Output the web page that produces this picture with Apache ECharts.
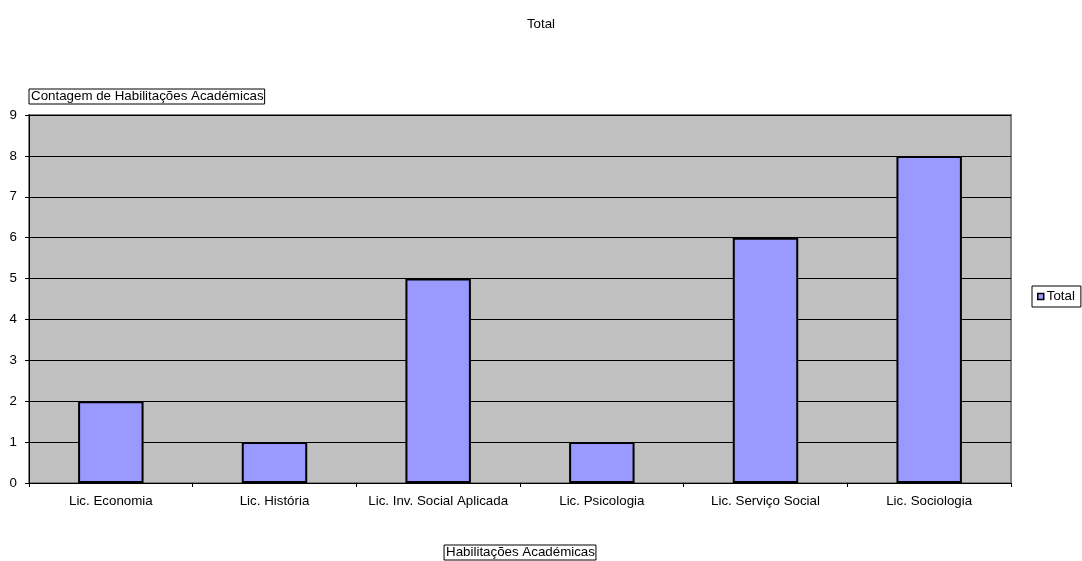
<!DOCTYPE html>
<html>
<head>
<meta charset="utf-8">
<script src="https://cdn.jsdelivr.net/npm/echarts@6/dist/echarts.min.js"></script>
<style>
  html, body { margin: 0; padding: 0; background: #fff; }
  #chart { width: 1082px; height: 561px; }
</style>
</head>
<body>
<div id="chart"></div>
<script>
const categories = ['Lic. Economia', 'Lic. História', 'Lic. Inv. Social Aplicada', 'Lic. Psicologia', 'Lic. Serviço Social', 'Lic. Sociologia'];
const totals = [2, 1, 5, 1, 6, 8];
const yTicks = [0, 1, 2, 3, 4, 5, 6, 7, 8, 9];

window.addEventListener('load', function () {
    const chart = echarts.init(document.getElementById('chart'));
    const font = 'Liberation Sans, Arial, sans-serif';
    const fs = 13.33;
    const option = {
        animation: false,
        textStyle: { fontFamily: font },
        title: {
            text: 'Total',
            left: 'center',
            top: 13,
            textStyle: { fontSize: fs, fontWeight: 'normal', color: '#000', fontFamily: font }
        },
        legend: {
            data: ['Total'],
            left: 1032,
            top: 286,
            orient: 'vertical',
            borderColor: '#000',
            borderWidth: 1,
            padding: [4, 6, 4, 5],
            itemWidth: 6,
            itemHeight: 6,
            itemGap: 4,
            icon: 'rect',
            itemStyle: { borderColor: '#000', borderWidth: 1.5 },
            textStyle: { fontSize: fs, color: '#000', fontFamily: font, padding: [0, 0, 0, -2] }
        },
        grid: {
            left: 29,
            right: 71,
            top: 115,
            bottom: 78,
            outerBoundsMode: 'none',
            containLabel: false,
            show: true,
            backgroundColor: '#c0c0c0',
            borderColor: '#808080',
            borderWidth: 2
        },
        xAxis: {
            type: 'category',
            data: categories,
            name: 'Habilitações Académicas',
            nameLocation: 'middle',
            nameGap: 62,
            nameTextStyle: {
                fontSize: fs, color: '#000', fontFamily: font,
                borderColor: '#000', borderWidth: 1, padding: [1, 1, 1, 2],
                verticalAlign: 'top'
            },
            axisLine: { lineStyle: { color: '#000', width: 1 } },
            axisTick: { show: true, alignWithLabel: false, length: 4, lineStyle: { color: '#000' } },
            axisLabel: { fontSize: fs, color: '#000', margin: 12, interval: 0 }
        },
        yAxis: {
            type: 'value',
            min: 0,
            max: 9,
            interval: 1,
            name: 'Contagem de Habilitações Académicas',
            nameLocation: 'end',
            nameGap: 11,
            nameTextStyle: {
                fontSize: fs, color: '#000', fontFamily: font, align: 'left',
                borderColor: '#000', borderWidth: 1, padding: [1, 1, 1, 2]
            },
            axisLine: { show: true, lineStyle: { color: '#000', width: 1 } },
            axisTick: { show: true, length: 4, lineStyle: { color: '#000' } },
            axisLabel: {
                fontSize: fs, color: '#000', margin: 12,
                formatter: function (v) { return yTicks.indexOf(v) >= 0 ? String(v) : ''; }
            },
            splitLine: { show: true, lineStyle: { color: '#000', width: 1 } }
        },
        series: [
            {
                name: 'Total',
                type: 'bar',
                data: totals,
                barWidth: '40%',
                itemStyle: { color: '#9999ff', borderColor: '#000', borderWidth: 2 }
            }
        ]
    };
    chart.setOption(option);
});
</script>
</body>
</html>
